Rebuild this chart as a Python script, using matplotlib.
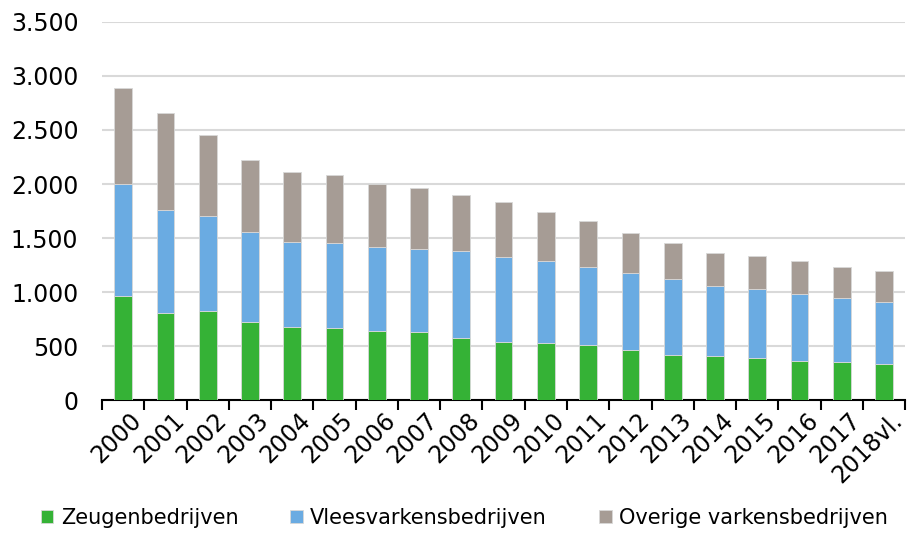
import matplotlib.pyplot as plt
import numpy as np
from matplotlib.ticker import FuncFormatter

# data (number of farms)
years = ['2000', '2001', '2002', '2003', '2004', '2005', '2006', '2007', '2008', '2009',
         '2010', '2011', '2012', '2013', '2014', '2015', '2016', '2017', '2018vl.']
zeugen = [960, 805, 821, 725, 679, 664, 642, 627, 577, 540,
          531, 509, 460, 420, 410, 392, 358, 355, 336]
vlees = [1037, 951, 879, 827, 787, 787, 778, 771, 800, 787,
         753, 722, 713, 697, 642, 633, 626, 592, 568]
overig = [895, 898, 754, 670, 642, 629, 583, 562, 521, 503,
          454, 426, 373, 340, 309, 308, 300, 284, 287]

c_green = '#35b236'
c_blue = '#6aabe2'
c_grey = '#a69c95'

plt.rcParams['font.family'] = ['DejaVu Sans']

fig = plt.figure(figsize=(9.07, 5.35), dpi=100)
ax = fig.add_axes([0.1125, 0.2523, 0.8855, 0.7066])

x = np.arange(len(years))
w = 0.42
bottom2 = np.array(zeugen)
bottom3 = bottom2 + np.array(vlees)
ax.bar(x, zeugen, w, color=c_green, edgecolor='#d8d8d8', linewidth=0.6, label='Zeugenbedrijven', zorder=3)
ax.bar(x, vlees, w, bottom=bottom2, color=c_blue, edgecolor='#d8d8d8', linewidth=0.6, label='Vleesvarkensbedrijven', zorder=3)
ax.bar(x, overig, w, bottom=bottom3, color=c_grey, edgecolor='#d8d8d8', linewidth=0.6, label='Overige varkensbedrijven', zorder=3)

ax.set_ylim(0, 3500)
ax.set_xlim(-0.5, len(years) - 0.5)
ax.set_yticks(range(0, 3501, 500))
ax.yaxis.set_major_formatter(FuncFormatter(lambda v, p: f'{int(v):,}'.replace(',', '.')))
ax.grid(axis='y', color='#d9d9d9', linewidth=1.5, zorder=0)

for s in ['top', 'right', 'left']:
    ax.spines[s].set_visible(False)
ax.spines['bottom'].set_linewidth(1.5)
ax.tick_params(axis='y', length=0, labelsize=17, pad=17)

ax.set_xticks(x + 0.15)
ax.set_xticklabels(years, rotation=45, ha='right', va='top', rotation_mode='anchor', fontsize=17)
ax.set_xticks(np.arange(-0.5, len(years), 1), minor=True)
ax.tick_params(axis='x', which='major', length=0, pad=6)
ax.tick_params(axis='x', which='minor', length=7, width=1.5, direction='out')

fig.legend(loc='lower center', bbox_to_anchor=(0.512, -0.022), ncol=3, frameon=False,
           fontsize=15, handlelength=0.6, handleheight=0.6, handletextpad=0.35,
           columnspacing=2.5)

fig.savefig('out.png', dpi=100)
